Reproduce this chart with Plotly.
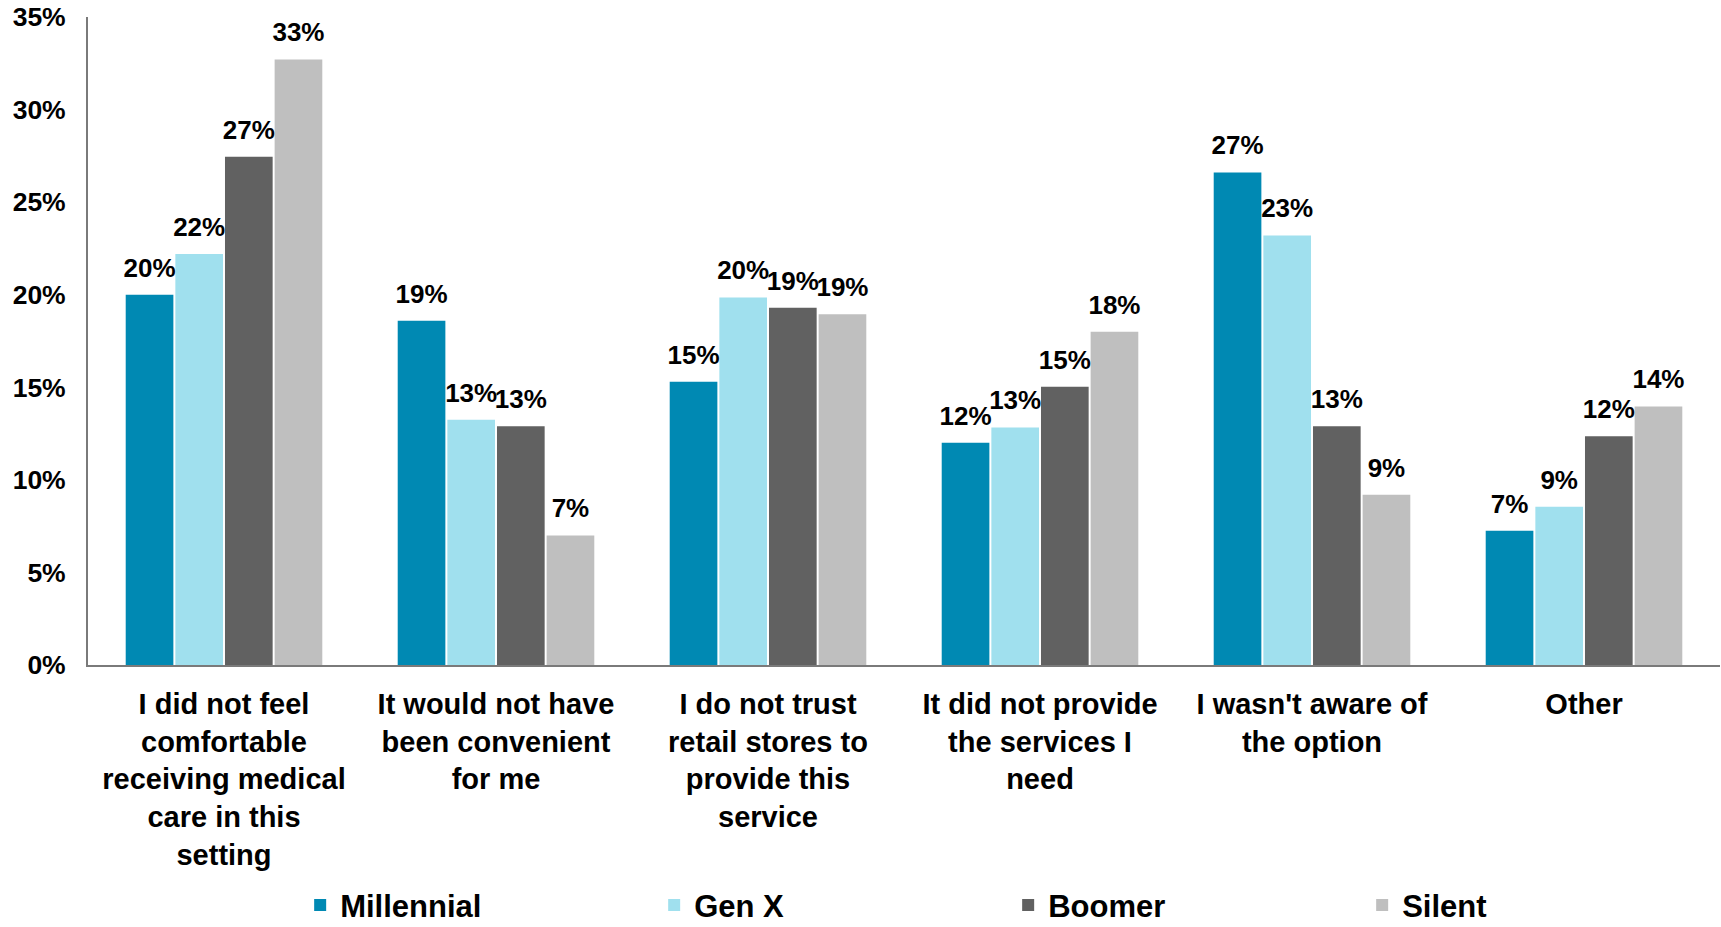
import plotly.graph_objects as go

categories = [
    "I did not feel<br>comfortable<br>receiving medical<br>care in this<br>setting",
    "It would not have<br>been convenient<br>for me",
    "I do not trust<br>retail stores to<br>provide this<br>service",
    "It did not provide<br>the services I<br>need",
    "I wasn't aware of<br>the option",
    "Other",
]
millennial = [20.0, 18.6, 15.3, 12.0, 26.6, 7.25]
gen_x = [22.2, 13.25, 19.85, 12.83, 23.2, 8.55]
boomer = [27.45, 12.9, 19.3, 15.03, 12.9, 12.36]
silent = [32.7, 7.0, 18.95, 18.0, 9.2, 13.96]

series = [
    ("Millennial", millennial, "#0089B3"),
    ("Gen X", gen_x, "#A0E0EE"),
    ("Boomer", boomer, "#616161"),
    ("Silent", silent, "#BFBFBF"),
]
y_ticks = [0, 5, 10, 15, 20, 25, 30, 35]
y_tick_labels = [f"{t}%" for t in y_ticks]

FONT = "Arial, Liberation Sans, sans-serif"

fig = go.Figure()
for name, vals, color in series:
    fig.add_trace(go.Bar(
        name=name, x=categories, y=vals,
        marker=dict(color=color, line=dict(width=0)),
        hoverinfo="skip",
    ))
for name, vals, color in series:
    fig.add_trace(go.Scatter(
        x=categories, y=vals, mode="markers+text",
        text=[f"{v:.0f}%" for v in vals],
        textposition="top center",
        textfont=dict(family=FONT, size=26, color="#000000", weight="bold"),
        marker=dict(size=17, color="rgba(0,0,0,0)"),
        showlegend=False, hoverinfo="skip", cliponaxis=False,
    ))

fig.update_layout(
    width=1721, height=927,
    margin=dict(l=88, r=1, t=17, b=262, autoexpand=False),
    paper_bgcolor="white", plot_bgcolor="white",
    barmode="group", bargap=0.27, bargroupgap=0.04,
    scattermode="group", scattergap=0.27,
    font=dict(family=FONT, color="#000000"),
    showlegend=True,
    legend=dict(
        orientation="h", x=0.130, xanchor="left", y=-0.371, yanchor="middle",
        font=dict(family=FONT, size=31, color="#000000", weight="bold"),
        entrywidth=309, entrywidthmode="pixels",
        itemclick=False, itemdoubleclick=False,
    ),
    xaxis=dict(
        showline=True, linecolor="#7a7a7a", linewidth=2,
        ticks="", showgrid=False, automargin=False,
        tickfont=dict(family=FONT, size=29, color="#000000", weight="bold"),
        ticklabelstandoff=12,
    ),
    yaxis=dict(
        range=[0, 35], tickvals=y_ticks, ticktext=y_tick_labels,
        showline=True, linecolor="#7a7a7a", linewidth=2, automargin=False,
        showgrid=False, zeroline=False, ticks="",
        tickfont=dict(family=FONT, size=26.5, color="#000000", weight="bold"),
        ticklabelstandoff=15,
    ),
)
fig.write_html("out.html")
